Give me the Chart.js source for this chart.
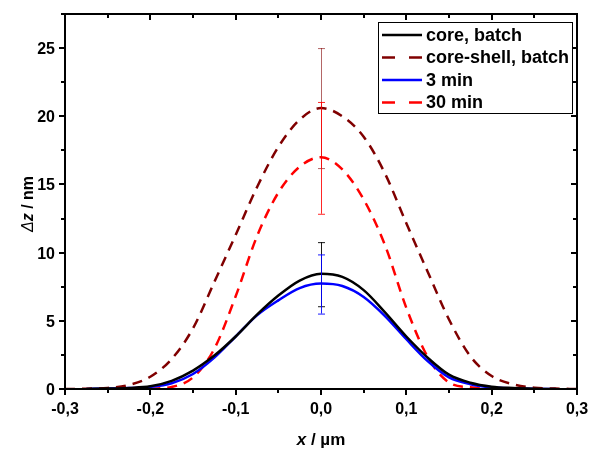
<!DOCTYPE html>
<html>
<head>
<meta charset="utf-8">
<script src="https://cdn.jsdelivr.net/npm/chart.js@4"></script>
<style>
  body { margin: 0; background: #fff; }
  canvas { display: block; }
</style>
</head>
<body>
<canvas id="chart" width="595" height="451"></canvas>
<script>
// x positions in µm
const xValues = [-0.3, -0.275, -0.25, -0.225, -0.2, -0.175, -0.15, -0.125, -0.1, -0.075, -0.05, -0.025, 0,
  0.025, 0.05, 0.075, 0.1, 0.125, 0.15, 0.175, 0.2, 0.225, 0.25, 0.275, 0.3];

// height profiles in nm
const coreBatch = [null, 0.0, 0.03, 0.08, 0.2, 0.6, 1.35, 2.45, 3.85, 5.45, 6.85, 7.95, 8.45,
  8.22, 7.25, 5.62, 3.85, 2.3, 1.05, 0.46, 0.17, 0.07, 0.02, 0.0, null];
const coreShellBatch = [0.0, 0.02, 0.08, 0.3, 0.9, 2.2, 4.45, 7.85, 11.3, 14.8, 17.75, 19.75, 20.6,
  20.0, 18.5, 15.8, 12.15, 8.6, 5.1, 2.4, 0.95, 0.35, 0.1, 0.03, 0.0];
const min3 = [null, 0.0, 0.03, 0.07, 0.15, 0.42, 1.1, 2.3, 3.85, 5.4, 6.5, 7.4, 7.73,
  7.55, 6.75, 5.35, 3.65, 2.05, 0.85, 0.35, 0.12, 0.05, 0.02, 0.0, null];
const min30 = [null, null, null, null, 0.02, 0.15, 0.85, 2.95, 6.8, 11.2, 14.4, 16.3, 17.0,
  16.1, 13.9, 10.55, 5.95, 2.35, 0.48, 0.12, 0.02, null, null, null, null];

// error bars at x = 0 (same order as the series)
const seriesNames = ["core, batch", "core-shell, batch", "3 min", "30 min"];
const errCenter = [8.42, 20.6, 7.7, 16.95];
const errSize = [2.35, 4.4, 2.17, 4.1];

const xTickLabels = ["-0,3", "-0,2", "-0,1", "0,0", "0,1", "0,2", "0,3"];
const yTickLabels = ["0", "5", "10", "15", "20", "25"];

const colors = ["#000000", "#800000", "#0000ff", "#ff0000"];
const dashes = [[], [10, 7], [], [10, 7]];
const errColors = ["rgba(0,0,0,0.9)", "rgba(128,0,0,0.6)", "rgba(0,0,255,0.9)", "rgba(255,0,0,0.85)"];

function toPoints(ys) {
  return xValues.map((x, i) => ({ x: x, y: ys[i] }));
}

const allSeries = [coreBatch, coreShellBatch, min3, min30];

const FONT = '"Liberation Sans", Arial, sans-serif';

// axes frame, ticks, labels, error bars, legend
const decor = {
  id: "decor",
  afterDatasetsDraw(chart) {
    const { ctx, scales: { x, y } } = chart;
    ctx.save();
    errCenter.forEach((c, i) => {
      const px = x.getPixelForValue(0);
      const top = y.getPixelForValue(c + errSize[i]);
      const bot = y.getPixelForValue(c - errSize[i]);
      ctx.strokeStyle = errColors[i];
      ctx.lineWidth = 1;
      ctx.beginPath();
      ctx.moveTo(px + 0.5, top); ctx.lineTo(px + 0.5, bot);
      ctx.moveTo(px - 3, top + 0.5); ctx.lineTo(px + 4, top + 0.5);
      ctx.moveTo(px - 3, bot + 0.5); ctx.lineTo(px + 4, bot + 0.5);
      ctx.stroke();
    });
    ctx.restore();
  },
  afterDraw(chart) {
    const { ctx, chartArea: a, scales: { x, y } } = chart;
    ctx.save();
    ctx.strokeStyle = "#000";
    ctx.lineWidth = 2;
    ctx.strokeRect(a.left, a.top, a.right - a.left, a.bottom - a.top);

    ctx.beginPath();
    for (let k = 0; k <= 12; k++) {
      const v = -0.3 + k * 0.05;
      const px = Math.round(x.getPixelForValue(v));
      const len = k % 2 === 0 ? 6 : 4;
      ctx.moveTo(px, a.bottom); ctx.lineTo(px, a.bottom + len);
      ctx.moveTo(px, a.top); ctx.lineTo(px, a.top + len);
    }
    for (let k = 0; k <= 11; k++) {
      const v = k * 2.5;
      const py = Math.round(y.getPixelForValue(v));
      const len = k % 2 === 0 ? 6 : 4;
      ctx.moveTo(a.left, py); ctx.lineTo(a.left - len, py);
      ctx.moveTo(a.right, py); ctx.lineTo(a.right - len, py);
    }
    ctx.stroke();

    ctx.fillStyle = "#000";
    ctx.font = "bold 16px " + FONT;
    ctx.textAlign = "center";
    ctx.textBaseline = "alphabetic";
    xTickLabels.forEach((t, i) => {
      ctx.fillText(t, x.getPixelForValue(-0.3 + i * 0.1), a.bottom + 25);
    });
    ctx.textAlign = "right";
    yTickLabels.forEach((t, i) => {
      ctx.fillText(t, a.left - 10, y.getPixelForValue(i * 5) + 6);
    });

    // x title
    const xt = [["bold italic 17px " + FONT, "x"], ["bold 17px " + FONT, " / µm"]];
    drawRun(ctx, xt, (a.left + a.right) / 2, 445);

    // y title
    ctx.save();
    ctx.translate(33, 204);
    ctx.rotate(-Math.PI / 2);
    const yt = [["italic 16px " + FONT, "Δ"], ["bold italic 16px " + FONT, "z"], ["bold 16px " + FONT, " / nm"]];
    drawRun(ctx, yt, 0, 0);
    ctx.restore();

    // legend
    ctx.fillStyle = "#fff";
    ctx.fillRect(378, 22, 194, 91);
    ctx.strokeStyle = "#000";
    ctx.lineWidth = 1;
    ctx.strokeRect(378.5, 22.5, 194, 91);
    seriesNames.forEach((name, i) => {
      const ly = 35 + i * 22.5;
      ctx.strokeStyle = colors[i];
      ctx.lineWidth = 2.5;
      ctx.setLineDash(dashes[i].length ? [13, 14] : []);
      ctx.beginPath();
      ctx.moveTo(382, ly); ctx.lineTo(422, ly);
      ctx.stroke();
      ctx.setLineDash([]);
      ctx.fillStyle = "#000";
      ctx.font = "bold 18px " + FONT;
      ctx.textAlign = "left";
      ctx.textBaseline = "middle";
      ctx.fillText(name, 426, ly + 1);
    });
    ctx.restore();
  }
};

function drawRun(ctx, parts, cx, baseY) {
  let total = 0;
  parts.forEach(p => { ctx.font = p[0]; total += ctx.measureText(p[1]).width; });
  let px = cx - total / 2;
  ctx.textAlign = "left";
  ctx.textBaseline = "alphabetic";
  parts.forEach(p => {
    ctx.font = p[0];
    ctx.fillText(p[1], px, baseY);
    px += ctx.measureText(p[1]).width;
  });
}

new Chart(document.getElementById("chart").getContext("2d"), {
  type: "line",
  data: {
    datasets: allSeries.map((s, i) => ({
      label: seriesNames[i],
      data: toPoints(s),
      borderColor: colors[i],
      borderWidth: 2.5,
      borderDash: dashes[i],
      pointRadius: 0,
      fill: false,
      cubicInterpolationMode: "monotone",
      spanGaps: false
    }))
  },
  options: {
    responsive: false,
    animation: false,
    layout: { padding: { left: 65, right: 18, top: 14, bottom: 62 } },
    scales: {
      x: { type: "linear", min: -0.3, max: 0.3, display: false },
      y: { type: "linear", min: 0, max: 27.5, display: false }
    },
    plugins: {
      legend: { display: false },
      tooltip: { enabled: false }
    }
  },
  plugins: [decor]
});
</script>
</body>
</html>
